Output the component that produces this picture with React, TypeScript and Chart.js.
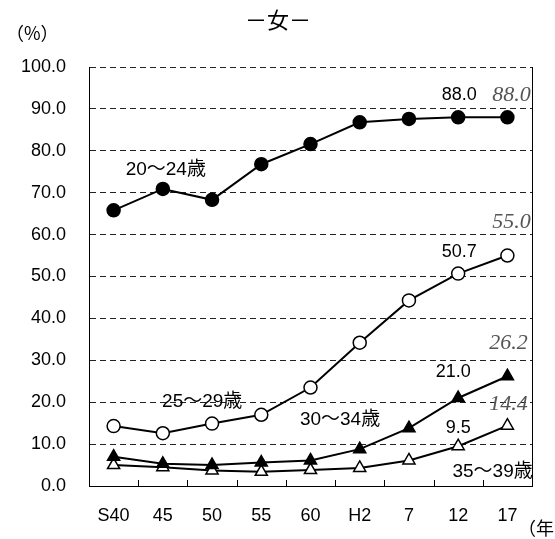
import React, { useEffect, useRef } from "react";
import { Chart, registerables } from "chart.js";

Chart.register(...registerables);

const categories = ["S40", "45", "50", "55", "60", "H2", "7", "12", "17"];
const age20to24 = [65.8, 70.9, 68.3, 76.8, 81.6, 86.8, 87.6, 88.0, 88.0];
const age25to29 = [14.3, 12.6, 14.9, 17.0, 23.5, 34.2, 44.3, 50.7, 55.0];
const age30to34 = [7.0, 5.3, 5.0, 5.6, 6.1, 8.8, 13.8, 21.0, 26.2];
const age35to39 = [5.0, 4.5, 3.7, 3.4, 3.8, 4.3, 6.1, 9.5, 14.4];
const yTicks = [0, 10, 20, 30, 40, 50, 60, 70, 80, 90, 100];

const seriesNames = ["20〜24歳", "25〜29歳", "30〜34歳", "35〜39歳"];

// value labels: [series index, point index, italic?]
const valueLabels: [number, number, boolean][] = [
  [0, 7, false],
  [0, 8, true],
  [1, 7, false],
  [1, 8, true],
  [2, 7, false],
  [2, 8, true],
  [3, 7, false],
  [3, 8, true],
];

const SANS = "'Liberation Sans', 'Noto Sans CJK JP', sans-serif";
const CJK = "'Noto Sans CJK JP', 'Liberation Sans', sans-serif";

export default function App() {
  const ref = useRef<HTMLCanvasElement | null>(null);

  useEffect(() => {
    const canvas = ref.current;
    if (!canvas) return;
    const allSeries = [age20to24, age25to29, age30to34, age35to39];

    const valueOffsets: [number, number][] = [
      [1, -22],
      [4, -22],
      [1, -22],
      [4, -33],
      [-5, -26],
      [1, -33],
      [0, -18],
      [1, -21],
    ];
    const namePos: [number, number][] = [
      [1.06, 75.4],
      [1.8, 20.0],
      [4.6, 15.8],
      [7.7, 3.4],
    ];

    const overlay = {
      id: "overlay",
      afterDraw(chart: any) {
        const ctx = chart.ctx;
        const xs = chart.scales.x;
        const ys = chart.scales.y;
        const area = chart.chartArea;
        ctx.save();
        ctx.strokeStyle = "#000";
        ctx.lineWidth = 1;
        ctx.setLineDash([]);
        ctx.beginPath();
        const rx = Math.round(area.right) + 0.5;
        ctx.moveTo(rx, area.top);
        ctx.lineTo(rx, area.bottom);
        ctx.stroke();
        ctx.beginPath();
        for (let i = 0; i < categories.length - 1; i++) {
          const x = Math.round((xs.getPixelForValue(i) + xs.getPixelForValue(i + 1)) / 2) + 0.5;
          ctx.moveTo(x, area.bottom);
          ctx.lineTo(x, area.bottom - 6);
        }
        ctx.stroke();

        ctx.textAlign = "center";
        ctx.textBaseline = "middle";
        ctx.fillStyle = "#000";
        ctx.font = `19px ${SANS}`;
        seriesNames.forEach((n, i) => {
          const [ci, v] = namePos[i];
          ctx.fillText(n, xs.getPixelForValue(ci), ys.getPixelForValue(v));
        });
        valueLabels.forEach(([s, p, italic], k) => {
          const v = allSeries[s][p];
          const x = xs.getPixelForValue(p) + valueOffsets[k][0];
          const y = ys.getPixelForValue(v) + valueOffsets[k][1];
          if (italic) {
            ctx.font = `italic 22px 'Liberation Serif', 'DejaVu Serif', serif`;
            ctx.fillStyle = "#555";
          } else {
            ctx.font = `18px ${SANS}`;
            ctx.fillStyle = "#000";
          }
          ctx.fillText(v.toFixed(1), x, y);
        });
        ctx.fillStyle = "#000";
        ctx.font = `22px ${CJK}`;
        ctx.fillText("－女－", 278, 20);
        ctx.font = `18px ${CJK}`;
        ctx.textAlign = "left";
        ctx.fillText("（%）", 6, 33);
        ctx.fillText("（年）", 518, 528);
        ctx.restore();
      },
    };

    const mk = (label: string, data: number[], style: string, fill: string) => ({
      label,
      data,
      borderColor: "#000",
      borderWidth: 2,
      pointStyle: style,
      pointRadius: style === "triangle" ? 7 : 6.5,
      pointBackgroundColor: fill,
      pointBorderColor: "#000",
      pointBorderWidth: 1.5,
      tension: 0,
    });

    const chart = new Chart(canvas, {
      type: "line",
      data: {
        labels: categories,
        datasets: [
          mk(seriesNames[0], age20to24, "circle", "#000"),
          mk(seriesNames[1], age25to29, "circle", "#fff"),
          mk(seriesNames[2], age30to34, "triangle", "#000"),
          mk(seriesNames[3], age35to39, "triangle", "#fff"),
        ],
      },
      options: {
        animation: false,
        responsive: false,
        devicePixelRatio: 1,
        layout: { padding: { left: 0, right: 23, top: 67, bottom: 0 } },
        plugins: { legend: { display: false }, tooltip: { enabled: false }, title: { display: false } },
        scales: {
          x: {
            type: "category",
            offset: true,
            grid: { display: false, drawTicks: false },
            border: { display: true, color: "#000", width: 1 },
            ticks: { color: "#000", font: { size: 18, family: SANS }, padding: 19, maxRotation: 0, autoSkip: false },
            afterFit: (s: any) => { s.height = 53; },
          },
          y: {
            min: 0,
            max: 100,
            afterBuildTicks: (s: any) => { s.ticks = yTicks.map((v) => ({ value: v })); },
            grid: { color: "#222", lineWidth: 1, drawTicks: false },
            border: { display: true, color: "#000", width: 1, dash: [6, 4] },
            ticks: { color: "#000", font: { size: 18, family: SANS }, padding: 23, callback: (v: any) => Number(v).toFixed(1) },
            afterFit: (s: any) => { s.width = 89; },
          },
        },
      },
      plugins: [overlay],
    } as any);
    return () => chart.destroy();
  }, []);

  return (
    <div style={{ position: "absolute", left: 0, top: 0, width: 555, height: 539, background: "#fff" }}>
      <canvas ref={ref} width={555} height={539} />
    </div>
  );
}
